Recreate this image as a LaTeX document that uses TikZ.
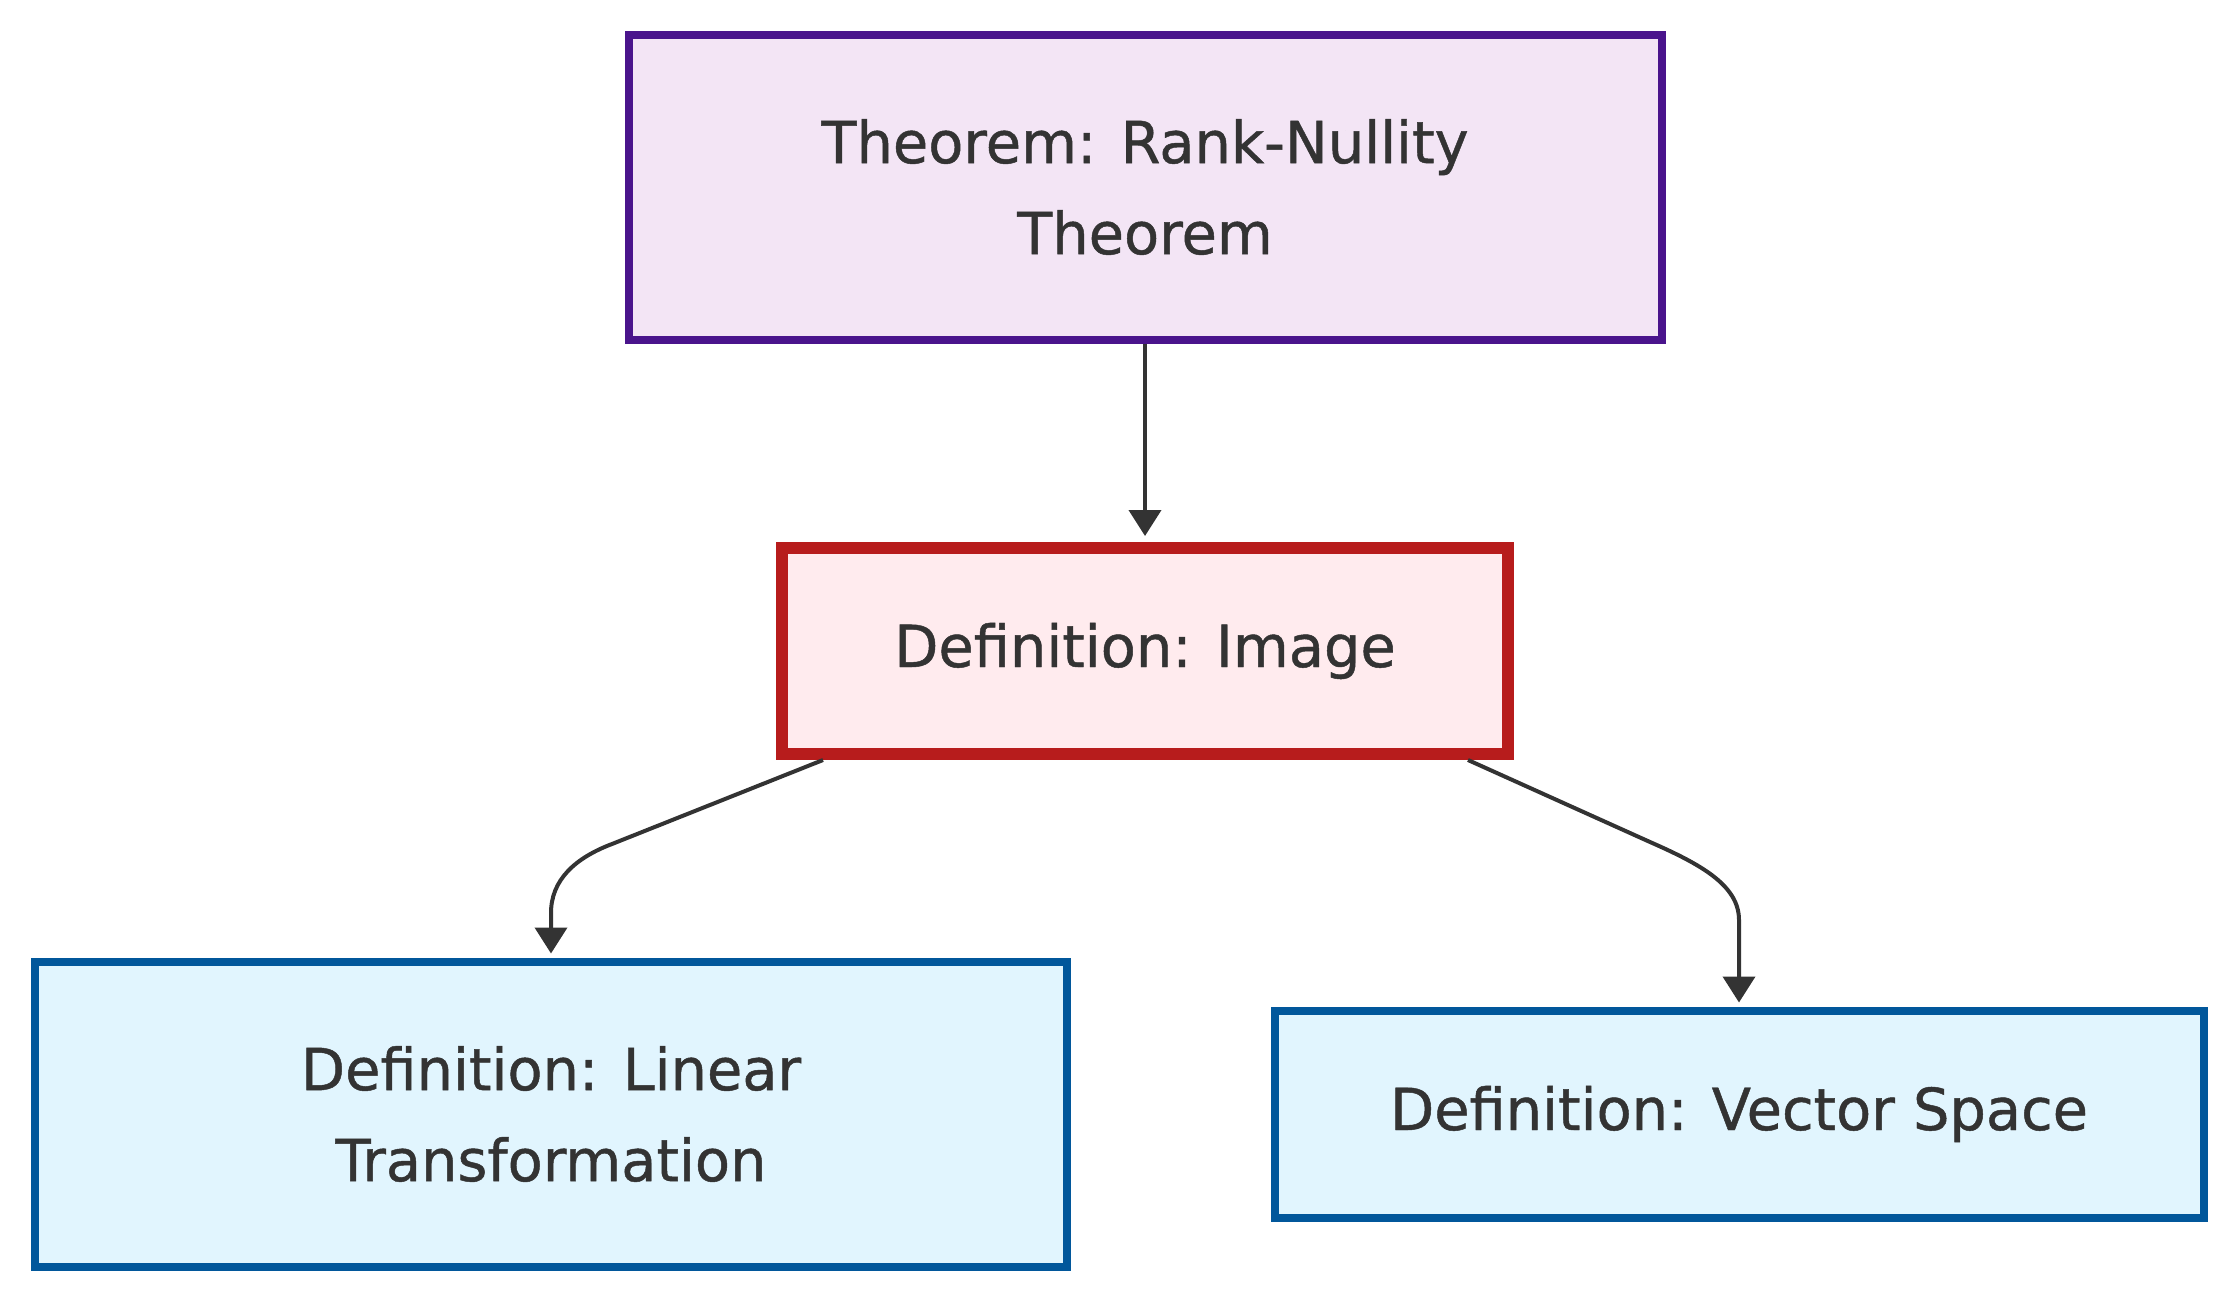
\documentclass[tikz,border=0pt]{standalone}
\usepackage{fontspec}
\newfontfamily\boxfont{DejaVu Sans}[FakeStretch=0.99,FakeBold=0.8]
\usetikzlibrary{arrows.meta,positioning}

\definecolor{txtgray}{HTML}{333333}
\definecolor{thmfill}{HTML}{F3E5F5}
\definecolor{thmline}{HTML}{4A148C}
\definecolor{imgfill}{HTML}{FFEBEE}
\definecolor{imgline}{HTML}{B71C1C}
\definecolor{deffill}{HTML}{E1F5FE}
\definecolor{defline}{HTML}{01579B}

\begin{document}
\begin{tikzpicture}[x=1pt,y=-1pt,
  box/.style={rectangle,text=txtgray,align=center,inner sep=0pt,
    font=\boxfont\fontsize{58}{91}\selectfont},
  thmbox/.style={box,draw=thmline,fill=thmfill,line width=8pt},
  imgbox/.style={box,draw=imgline,fill=imgfill,line width=12pt},
  defbox/.style={box,draw=defline,fill=deffill,line width=8pt},
  link/.style={draw=txtgray,line width=4pt,-{Triangle[length=26pt,width=32pt]}}]
\useasboundingbox (0,0) rectangle (2236,1304);

\node[thmbox,minimum width=1033pt,minimum height=305pt] at (1145,187) (thm){Theorem: Rank-Nullity\\Theorem};
\node[imgbox,minimum width=726pt,minimum height=206pt] at (1145,651) (img){Definition: Image};
\node[defbox,minimum width=1032pt,minimum height=305pt] at (551,1114) (lin){Definition: Linear\\Transformation};
\node[defbox,minimum width=929pt,minimum height=207pt] at (1739,1114) (vec){Definition: Vector Space};

\path[link,shorten >=6pt] (thm.south) -- (img.north);
\path[link,shorten >=4pt] ([xshift=-322pt]img.south) -- (612,844) .. controls (575,858) and (551,880) .. (551,913) -- (lin.north);
\path[link,shorten >=4pt] ([xshift=323pt]img.south) -- (1650,842) .. controls (1700,864) and (1739,885) .. (1739,920) -- (vec.north);

\end{tikzpicture}
\end{document}
